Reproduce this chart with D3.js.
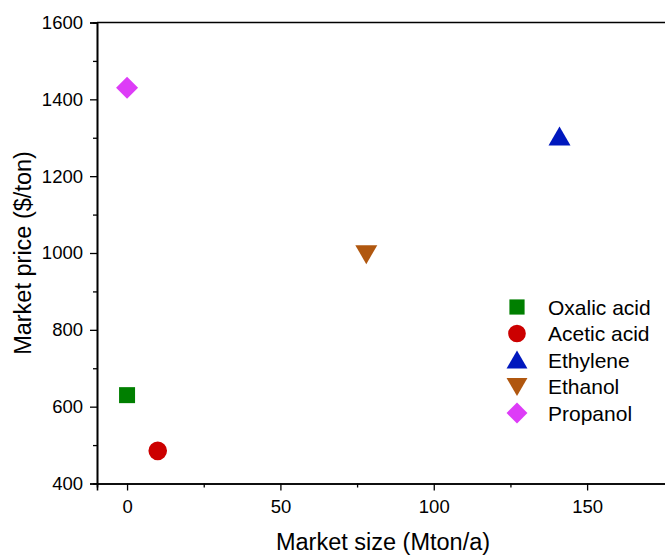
<!DOCTYPE html>
<html><head><meta charset="utf-8">
<script src="https://cdn.jsdelivr.net/npm/d3@7"></script>
<style>body{margin:0;background:#fff;} svg{display:block;font-family:"Liberation Sans",Arial,sans-serif;}</style>
</head><body>
<svg id="c" width="665" height="555"></svg>
<script>
const names = ["Oxalic acid","Acetic acid","Ethylene","Ethanol","Propanol"];
const sizes = [0, 10, 141, 78, 0];
const prices = [630, 485, 1303, 997, 1430];
const colors = ["#007F00","#CC0000","#0018BE","#B0570F","#DD3CF7"];
const shapes = ["square","circle","triangle","triangleDown","diamond"];
const xMajor = [0,50,100,150];
const xMinor = [25,75,125];
const yMajor = [400,600,800,1000,1200,1400,1600];
const yMinor = [500,700,900,1100,1300,1500];

const svg = d3.select("#c");
const L=97, T=22.5, B=483.5;
const x = d3.scaleLinear().domain([-9.8,180]).range([L, L+(189.8)*3.067]);
const y = d3.scaleLinear().domain([400,1600]).range([B,T]);

function path(shape){
  if(shape==="square") return "M-8,-8H8V8H-8Z";
  if(shape==="circle") return d3.symbol(d3.symbolCircle, Math.PI*9.3*9.3)();
  if(shape==="triangle") return "M0,-10L11,9H-11Z";
  if(shape==="triangleDown") return "M0,10L11,-9H-11Z";
  if(shape==="diamond") return "M0,-11L11,0L0,11L-11,0Z";
}

svg.append("line").attr("x1",L).attr("x2",680).attr("y1",T).attr("y2",T).attr("stroke","#000").attr("stroke-width",1.6);

svg.append("g").attr("transform",`translate(0,${B})`)
  .call(d3.axisBottom(x).tickValues(xMajor).tickSize(7).tickPadding(9).tickFormat(d3.format("d")));
svg.append("g").attr("transform",`translate(0,${B})`)
  .call(d3.axisBottom(x).tickValues(xMinor).tickSize(4).tickFormat(""));
svg.append("g").attr("transform",`translate(${L},0)`)
  .call(d3.axisLeft(y).tickValues(yMajor).tickSize(7).tickPadding(7).tickFormat(d3.format("d")));
svg.append("g").attr("transform",`translate(${L},0)`)
  .call(d3.axisLeft(y).tickValues(yMinor).tickSize(4).tickFormat(""));
svg.selectAll(".domain").attr("stroke","#000").attr("stroke-width",1.6);
svg.selectAll(".tick line").attr("stroke","#000").attr("stroke-width",1.3);
svg.selectAll(".tick text").attr("font-size",18.5).attr("fill","#000").attr("font-family","Liberation Sans, Arial, sans-serif");

svg.append("text").attr("x",383).attr("y",550).attr("text-anchor","middle").attr("font-size",23.5).text("Market size (Mton/a)");
svg.append("text").attr("transform","translate(31,253) rotate(-90)").attr("text-anchor","middle").attr("font-size",23.5).text("Market price ($/ton)");

names.forEach((n,i)=>{
  svg.append("path").attr("d",path(shapes[i])).attr("fill",colors[i])
    .attr("transform",`translate(${x(sizes[i])},${y(prices[i])})`);
});

const lg = svg.append("g");
names.forEach((n,i)=>{
  const yy = 307 + i*26.5;
  lg.append("path").attr("d",path(shapes[i])).attr("fill",colors[i])
    .attr("transform",`translate(517,${yy}) scale(0.95)`);
  lg.append("text").attr("x",548).attr("y",yy+7.5).attr("font-size",21).text(n);
});
</script>
</body></html>
